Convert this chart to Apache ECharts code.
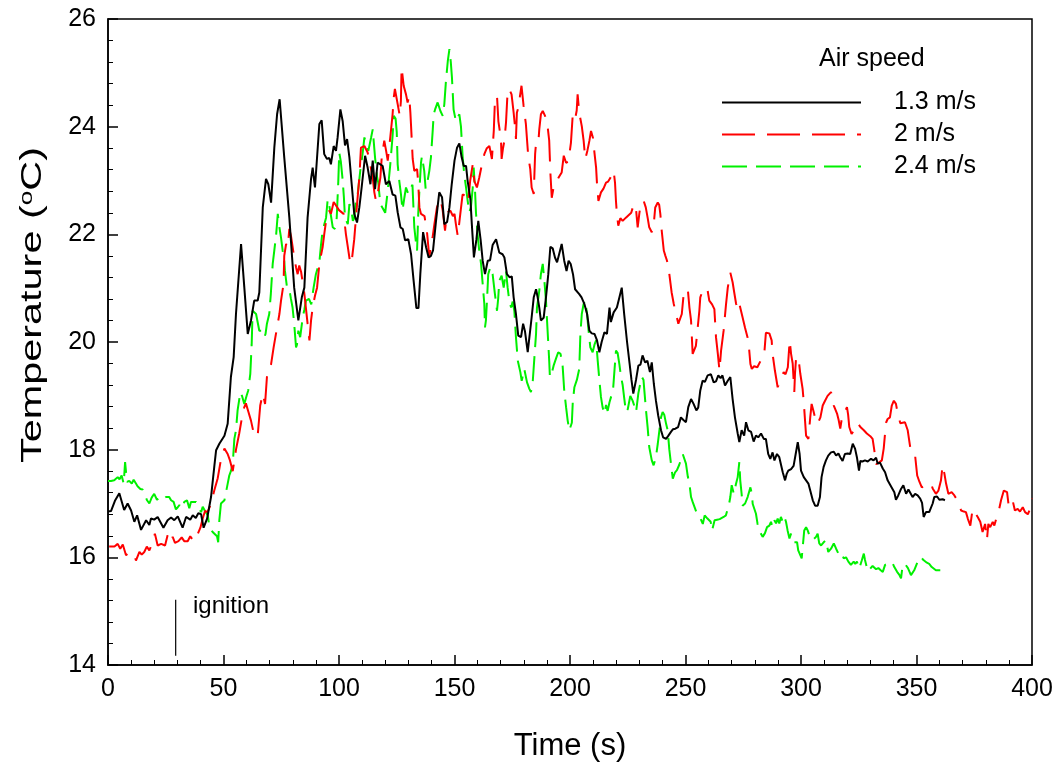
<!DOCTYPE html>
<html>
<head>
<meta charset="utf-8">
<script src="https://cdn.jsdelivr.net/npm/echarts@6/dist/echarts.min.js"></script>
<style>html,body{margin:0;padding:0;background:#fff;}#c{width:1061px;height:771px;}</style>
</head>
<body>
<div id="c"></div>
<script>
var xTicks = [0, 50, 100, 150, 200, 250, 300, 350, 400];
var yTicks = [14, 16, 18, 20, 22, 24, 26];
var seriesNames = ['1.3 m/s', '2 m/s', '2.4 m/s'];
var legendTitle = 'Air speed';
var ignitionLine = [[29.3, 15.21], [29.3, 14.17]];

var speed13 = [[0,16.85],[1.3,16.86],[3,17.05],[4.9,17.19],[7,16.88],[8.5,17.0],[10,16.87],[11.4,16.66],[12.6,16.78],[14.3,16.51],[16.5,16.69],[17.9,16.6],[18.6,16.72],[20,16.7],[21.5,16.75],[24,16.55],[25.8,16.69],[27.3,16.74],[28.7,16.69],[30.2,16.76],[32.3,16.55],[33.8,16.75],[35.6,16.7],[36.7,16.78],[38,16.73],[39.1,16.82],[40.3,16.8],[41.4,16.55],[42.9,16.72],[44.6,17.12],[46,17.68],[46.8,17.99],[48.2,18.11],[48.9,18.08],[50.4,18.26],[51.8,18.48],[53.2,19.35],[54.4,19.72],[55.4,20.52],[57.6,21.82],[59,21.02],[60.5,20.15],[61.9,20.4],[63.3,20.77],[64.8,20.77],[65.5,20.92],[67,22.5],[68.4,23.03],[69.4,22.93],[70.6,22.59],[72,23.61],[73.2,24.23],[74.3,24.51],[76.3,23.43],[78.5,22.31],[80.6,21.01],[82.4,20.4],[83.9,20.83],[85,21.01],[86.4,22.31],[87.9,23.03],[88.6,23.24],[89.6,22.87],[91.5,24.05],[92.5,24.12],[93.6,23.49],[94.8,23.4],[95.8,23.42],[96.5,23.3],[97.7,23.64],[98.7,23.55],[99.4,23.8],[100.6,24.32],[101.6,24.1],[102.6,23.65],[103.5,23.77],[104.5,23.43],[105.5,22.93],[106.6,22.38],[107.8,22.22],[108.8,22.5],[109.8,22.87],[111.3,23.46],[112.4,23.24],[113.6,22.93],[114.6,23.37],[115.6,22.84],[116.7,23.33],[117.9,23.3],[118.9,23.27],[120.3,22.93],[121.8,22.99],[123.2,22.74],[124.4,22.72],[125.4,22.41],[126.6,22.13],[127.6,22.1],[128.6,21.89],[130,21.91],[131.2,21.63],[132.3,21.14],[133.5,20.63],[134.4,20.63],[135.2,21.26],[136.4,22.04],[137.7,21.76],[138.8,21.57],[139.8,21.6],[140.7,21.7],[142,22.25],[143.4,22.78],[144.6,22.69],[145.6,22.19],[146.8,22.23],[147.8,22.5],[148.8,22.93],[150,23.37],[151.1,23.61],[152.1,23.69],[153.1,23.43],[154,23.27],[155,23.27],[155.7,22.99],[156.9,22.65],[157.5,22.19],[158.4,21.57],[159.5,21.91],[160.3,22.25],[161.3,21.9],[162.2,21.51],[163.2,21.26],[164.4,21.51],[165.4,21.52],[166.5,21.8],[168,21.91],[169.4,21.66],[170.8,21.63],[171.6,21.57],[172.7,21.26],[173.9,21.2],[174.8,21.22],[175.6,20.83],[176.6,20.52],[177.6,20.12],[178.8,20.09],[179.7,20.34],[180.5,20.2],[181.7,19.81],[182.5,19.83],[183.4,20.46],[184.3,20.83],[185.3,20.98],[186,20.83],[186.7,20.64],[187.4,20.4],[188.6,20.45],[189.6,20.83],[190.6,21.26],[191.5,21.77],[192.5,21.74],[193.5,21.57],[194.4,21.48],[195.4,21.65],[196.4,21.82],[197.5,21.51],[198.5,21.32],[199.4,21.51],[200.3,21.45],[201.3,21.26],[202.2,20.98],[203,20.95],[204,20.89],[205,20.83],[206.2,20.71],[207.4,20.52],[208.4,20.21],[209.4,20.16],[210.6,20.15],[211.7,20.03],[212.7,19.81],[213.7,20.0],[214.9,20.18],[216,20.15],[217.1,20.64],[217.7,20.37],[218.9,20.55],[220.3,20.64],[221.4,20.83],[222.4,21.01],[223.5,20.5],[224.7,20.0],[225.8,19.6],[226.6,19.3],[227.4,19.04],[228.6,19.3],[229.6,19.56],[230.5,19.58],[231.4,19.75],[232.5,19.62],[233.5,19.65],[234.6,19.44],[235.4,19.62],[236.3,19.22],[237.2,18.91],[238.2,18.63],[239.4,18.36],[240.3,18.23],[241.6,18.2],[242.6,18.26],[243.7,18.33],[244.6,18.38],[245.6,18.39],[246.8,18.42],[248,18.6],[249.1,18.55],[250.2,18.51],[251.2,18.79],[252.4,18.94],[253.5,18.85],[254.7,18.73],[255.5,18.78],[256.4,19.1],[257.4,19.28],[258.4,19.26],[259.6,19.38],[261,19.4],[262.2,19.25],[263.2,19.27],[264.2,19.38],[265.2,19.33],[266,19.38],[267.1,19.19],[268.3,19.28],[269.4,19.35],[270.4,18.94],[271.4,18.6],[272.6,18.3],[273.3,18.14],[274.3,18.36],[275.4,18.26],[276.2,18.51],[277.2,18.36],[278.4,18.33],[279.5,18.15],[280.5,18.26],[281.5,18.23],[282.7,18.3],[283.9,18.2],[284.8,18.2],[285.8,17.92],[286.7,17.83],[287.7,17.95],[288.5,17.8],[289.6,17.92],[290.6,17.86],[291.3,17.86],[292.1,17.58],[293.1,17.43],[293.8,17.55],[294.5,17.61],[295.7,17.64],[296.8,17.7],[297.7,17.92],[298.6,18.14],[299.4,17.92],[300,17.61],[301.2,17.49],[302.2,17.43],[303.2,17.37],[304,17.24],[305.1,17.06],[306.1,16.96],[307.2,16.96],[308.2,17.12],[308.9,17.49],[309.8,17.68],[310.8,17.8],[311.8,17.89],[313,17.95],[314.2,17.96],[315.2,17.89],[316.2,17.93],[317,17.86],[318,17.79],[319,17.92],[320.2,17.93],[321.3,17.92],[322.4,18.11],[323.4,18.02],[324.2,17.86],[325.1,17.61],[325.7,17.79],[326.6,17.78],[327.7,17.8],[328.9,17.78],[330.3,17.83],[331.4,17.8],[332.5,17.85],[333.2,17.74],[334.2,17.76],[335.4,17.65],[336.4,17.58],[337.5,17.43],[338.7,17.34],[339.5,17.33],[340.4,17.21],[341.1,17.07],[342.1,17.15],[343.3,17.27],[344.3,17.34],[345.5,17.18],[346.5,17.26],[347.3,17.24],[348.3,17.12],[349.4,17.18],[350.5,17.15],[351.6,17.09],[352.4,17.01],[353.1,16.75],[354.1,16.84],[354.8,16.81],[355.5,16.84],[356.3,16.81],[357,17.0],[357.7,17.12],[358.9,17.13],[359.9,17.07],[361.3,17.08],[362.3,17.06]];

var speed2 = [[0.5,16.2],[1.3,16.22],[2.8,16.2],[4.2,16.25],[5.3,16.16],[6.4,16.24],[7.8,16.04],[9.5,16.1],[11.4,16.04],[12.1,15.94],[13.6,16.1],[14.6,16.05],[15.7,16.1],[16.8,16.2],[17.9,16.13],[19.3,16.28],[20.3,16.44],[21.5,16.22],[23,16.25],[24.7,16.22],[25.8,16.41],[27,16.28],[28,16.38],[29,16.27],[30.5,16.3],[31.9,16.37],[33,16.3],[34.5,16.3],[35.6,16.39],[37.1,16.3],[38,16.33],[39,16.45],[40,16.55],[41,16.72],[42,16.86],[43.1,16.84],[44.6,17.0],[46,17.24],[47.5,17.47],[48.9,17.82],[50.4,18.02],[51.8,17.92],[52.8,17.8],[54,17.6],[55.4,18.0],[56.8,18.3],[58,18.6],[59,18.79],[59.7,18.86],[60.8,18.7],[61.9,18.54],[63.3,18.26],[64.8,18.26],[65.9,18.82],[67,19.04],[68,18.85],[68.8,19.35],[70.6,19.59],[71.7,19.9],[72.7,20.15],[74.2,20.52],[74.9,20.77],[76,21.08],[76.3,21.6],[77.1,21.82],[77.8,21.76],[78.5,22.1],[79.3,21.95],[80.6,21.57],[81.4,21.39],[82.1,21.26],[82.8,21.42],[83.6,21.3],[85,20.9],[86.4,20.34],[87.2,20.03],[87.9,20.4],[88.6,20.64],[89.6,20.86],[90.5,21.01],[91.5,21.45],[92.9,21.76],[93.6,22.0],[94.4,22.25],[95.8,22.44],[96.5,22.38],[97.7,22.6],[98.5,22.55],[100,22.45],[102,22.38],[103,22.0],[103.7,21.8],[104.9,21.45],[105.5,21.5],[106.6,21.91],[107.7,22.5],[108.8,23.05],[109.5,23.61],[111,23.64],[112.4,23.52],[113.5,23.3],[114.6,23.05],[115.3,22.78],[116,22.62],[116.7,22.74],[117.9,23.05],[118.5,23.43],[119.6,23.74],[120.4,23.55],[121.1,23.37],[122.2,23.8],[123.2,24.23],[123.7,24.54],[124.2,24.7],[125.4,24.42],[126.3,24.2],[126.8,24.48],[127.1,25.1],[128,24.76],[129,24.6],[129.7,24.45],[130.4,24.57],[130.9,24.26],[131.2,24.01],[131.9,23.4],[132.6,23.18],[133.8,23.21],[134.3,22.96],[134.8,22.5],[135.5,22.38],[136.3,22.4],[137,22.34],[138.1,22.04],[139.1,21.57],[139.8,21.8],[140.5,21.94],[141.3,22.19],[142.4,22.5],[143.4,22.65],[144.2,22.6],[144.9,22.44],[145.9,22.07],[146.5,22.3],[147.1,22.41],[148.2,22.44],[149.3,22.34],[150,22.38],[150.6,22.19],[151.4,21.97],[152.3,22.3],[153.5,22.74],[155,22.71],[155.9,22.6],[156.8,23.0],[157.9,23.3],[158.6,22.99],[159.7,22.87],[160.7,23.05],[162.2,23.37],[163,23.5],[164,23.6],[165.1,23.64],[166.2,23.4],[167,23.92],[167.5,24.48],[168.4,24.57],[169,24.1],[170.1,23.77],[170.4,23.4],[171,23.6],[171.6,23.74],[172.3,24.08],[173,24.66],[173.7,24.7],[174.7,24.6],[175.6,24.26],[176.2,24.0],[176.6,23.77],[177,24.26],[177.6,24.35],[178.3,24.37],[179,24.76],[179.9,24.39],[180.9,24.05],[181.9,23.46],[182.8,23.21],[183.4,22.87],[184.3,22.75],[184.9,23.49],[185.3,23.7],[186.3,23.7],[186.7,23.95],[187.4,24.23],[188.2,24.29],[189.2,24.2],[190.3,24.01],[191,23.74],[191.5,23.15],[192.1,22.68],[192.9,22.87],[193.9,22.95],[195,23.05],[196.4,23.15],[197.3,23.46],[198.3,23.33],[199.3,23.35],[200.4,23.7],[201.2,24.23],[202.2,24.14],[202.9,24.3],[203.3,24.6],[204,24.26],[205.1,24.01],[205.9,23.74],[206.6,23.4],[207.5,23.55],[208.4,23.74],[209.1,23.92],[209.9,23.8],[210.5,23.55],[211.3,23.24],[211.7,22.93],[212.3,22.62],[213.4,22.78],[214.5,22.85],[215.6,22.96],[216.5,22.98],[217.5,23.05],[218.9,23.18],[219.5,22.95],[219.9,22.62],[220.3,22.38],[220.9,22.16],[221.8,22.3],[222.8,22.25],[224.2,22.31],[225,22.3],[226.5,22.4],[227.6,22.56],[228.5,22.5],[229.3,22.13],[230,22.38],[230.7,22.59],[231.9,22.62],[232.8,22.5],[233.6,22.31],[234.3,22.13],[235.4,22.04],[236.2,22.16],[236.9,22.5],[238,22.59],[238.6,22.55],[239.1,22.38],[239.7,22.07],[240.6,21.7],[241.3,21.6],[242,21.51],[243,21.26],[244,20.92],[244.9,20.71],[245.9,20.52],[246.9,20.34],[247.6,20.36],[248.4,20.52],[249.2,20.89],[250.2,20.92],[251,20.98],[251.7,20.64],[252.4,20.4],[253.1,19.78],[254.5,19.93],[255.3,20.27],[256,20.58],[256.4,20.83],[257.4,20.95],[258.4,21.01],[259.6,20.95],[260.3,20.77],[261.5,20.7],[262.5,20.61],[263.2,20.09],[264,19.78],[264.7,19.47],[265.4,19.84],[266.5,20.21],[267.5,20.68],[268.3,21.01],[269.4,21.29],[270.4,21.11],[271.1,20.92],[271.9,20.71],[272.6,20.61],[273.3,20.71],[274.7,20.46],[275.8,20.26],[276.9,20.08],[277.6,19.84],[278.1,19.59],[278.7,19.5],[279.7,19.55],[280.5,19.53],[281.1,19.53],[282.5,19.65],[284.1,19.78],[284.8,20.17],[285.6,20.2],[286.3,20.16],[287.3,20.03],[287.7,19.78],[288.7,19.47],[289.9,19.16],[291.3,19.31],[292.5,19.44],[293.3,19.4],[294.3,19.53],[295.1,20.03],[295.7,19.78],[296.4,19.6],[297.1,19.07],[297.4,19.41],[297.9,19.72],[298.9,19.7],[299.7,19.41],[300.7,19.13],[301.2,18.88],[302.2,18.26],[303.2,18.2],[304,18.6],[304.6,18.85],[305.5,18.7],[306.2,18.57],[307.2,18.48],[308.4,18.6],[309.4,18.82],[310.3,18.9],[311.5,19.0],[313,19.07],[314.2,18.82],[314.9,18.85],[315.6,18.67],[316.3,18.55],[317,18.39],[318,18.67],[319,18.7],[319.9,18.79],[320.4,18.65],[320.9,18.42],[321.9,18.29],[322.8,18.35],[323.8,18.48],[324.8,18.48],[325.7,18.42],[326.5,18.4],[327.2,18.36],[328.5,18.3],[330,18.25],[331,18.2],[331.7,18.0],[332.5,17.73],[333.4,17.75],[334.2,17.77],[335,17.8],[335.8,18.02],[336.8,18.5],[337.5,18.57],[338.5,18.6],[339.3,18.82],[340.2,18.91],[341.1,18.85],[341.9,18.67],[343,18.49],[344,18.5],[345,18.51],[346.2,18.36],[347.6,17.95],[348.4,17.92],[349.4,17.89],[350.3,17.52],[351.3,17.4],[352.3,17.3],[353.5,17.33],[354.8,17.37],[356.3,17.37],[357,17.28],[358.4,17.18],[359.5,17.24],[360.6,17.43],[361.3,17.71],[362.1,17.55],[362.8,17.37],[363.8,17.18],[365.2,17.21],[366.4,17.15],[367.1,17.1],[367.8,17.12],[368.6,16.96],[369.3,16.87],[370.5,16.85],[371.4,16.84],[372.2,16.72],[373.3,16.59],[374.3,16.9],[375.5,16.82],[376.5,16.75],[377.6,16.66],[378.6,16.47],[379.7,16.62],[380.5,16.33],[381.1,16.62],[381.9,16.56],[383,16.66],[383.7,16.59],[384.8,16.76],[385.8,16.9],[386.6,17.06],[387.8,17.24],[389.2,17.21],[389.8,17.0],[390.6,16.95],[391.6,17.06],[392.6,16.87],[393.8,16.9],[394.8,16.85],[396,16.93],[397,16.84],[398.2,16.8],[399.2,16.9],[400,17.09]];

var speed24 = [[0,17.42],[1.3,17.42],[2.7,17.43],[4.2,17.49],[5,17.45],[5.9,17.52],[6.8,17.37],[7.4,17.77],[8.2,17.4],[9.2,17.42],[10.3,17.37],[11.1,17.44],[12.1,17.37],[12.8,17.32],[14,17.27],[15,17.26],[16,17.15],[16.9,17.06],[17.9,17.0],[18.9,17.11],[20,17.18],[21.2,17.07],[22.2,17.1],[23.2,17.06],[24,17.08],[25.1,17.12],[25.8,17.1],[26.5,17.12],[27.3,17.06],[28.4,17.03],[29.4,16.89],[30.2,16.93],[30.9,16.97],[32.3,16.91],[33,17.03],[34.2,17.06],[35.2,16.91],[35.9,17.03],[37,17.03],[38.1,17.03],[39.1,16.93],[40.3,16.84],[41,16.94],[42,16.86],[43.2,16.78],[43.9,16.56],[45.3,16.47],[46,16.44],[47.2,16.39],[47.7,16.28],[48.2,16.69],[48.9,17.0],[50.4,17.06],[51.5,17.3],[52.5,17.52],[53.2,17.6],[54,17.74],[54.7,18.2],[55.4,18.36],[56.1,18.73],[57.3,19.07],[58,19.0],[59,18.85],[60,19.0],[60.7,19.1],[61.6,19.41],[62.2,19.96],[62.6,20.58],[64.1,20.52],[65.5,20.21],[66.5,20.21],[67.7,20.09],[68.2,20.15],[68.8,20.34],[69.8,20.52],[70.5,20.9],[71.3,21.45],[72,21.7],[72.8,22.0],[73.5,22.38],[74.2,22.13],[74.9,21.94],[75.6,21.7],[76.3,21.51],[76.6,21.32],[77.5,21.01],[78.5,20.98],[79.2,20.8],[79.9,20.64],[80.6,20.34],[81.4,19.9],[81.8,19.95],[82.4,20.21],[83.2,20.09],[84.3,20.46],[85,20.6],[85.7,20.77],[87,20.8],[88,20.7],[89,21.01],[90,21.26],[91.5,21.48],[92.2,21.8],[92.9,22.07],[94.4,22.31],[95.1,22.65],[95.8,22.53],[96.5,22.35],[97.3,22.13],[98.2,22.1],[99,22.3],[99.7,22.99],[100.1,23.52],[100.8,23.35],[101.6,23.0],[102.1,22.7],[102.6,22.31],[103.8,22.19],[104.5,22.56],[105.2,22.5],[106,22.25],[106.6,22.3],[107.4,22.65],[108.1,22.75],[109.2,23.18],[110.2,23.49],[111,23.8],[112.1,23.64],[112.7,23.55],[113.9,23.8],[114.6,23.95],[115.6,23.43],[116.5,23.06],[117,22.96],[117.9,22.56],[119,22.48],[120,22.4],[121.1,22.81],[122.2,23.3],[123.2,23.83],[123.7,24.2],[124.5,24.15],[125,23.9],[125.4,23.3],[126.1,22.99],[126.8,22.75],[127.5,22.45],[128.3,22.68],[129,22.87],[130,22.75],[131.2,22.87],[131.8,22.92],[132.6,22.13],[133.3,21.85],[133.8,21.7],[134.3,22.38],[134.8,22.81],[135.5,23.33],[135.9,23.45],[136.9,23.18],[137.5,22.85],[138.1,22.93],[139.1,23.18],[139.8,23.43],[140.6,23.95],[141,24.23],[141.6,24.32],[142.7,24.45],[143.9,24.29],[144.9,24.2],[145.6,24.42],[146.3,24.85],[147.1,25.22],[147.8,25.44],[148.4,25.2],[148.9,24.91],[149.6,24.32],[150.6,24.1],[151.4,24.12],[152.1,24.23],[152.8,24.0],[153.5,23.46],[154.2,23.12],[155,22.87],[155.7,22.62],[156.4,22.41],[157.1,22.5],[157.9,22.87],[158.3,23.24],[158.8,22.9],[159.3,22.4],[160,22.0],[160.7,21.7],[161.5,21.45],[162.2,21.08],[162.9,20.71],[163.2,20.27],[163.6,20.4],[164.1,20.8],[164.6,21.26],[165.5,21.39],[166.5,21.26],[167.5,20.89],[168.4,20.58],[168.9,20.8],[169.4,21.14],[170.4,21.23],[171.3,21.01],[172.3,21.32],[173,21.01],[173.7,20.77],[174.5,20.64],[175.2,20.75],[175.9,20.58],[176.6,20.09],[177.4,19.65],[178.5,19.44],[179.1,19.28],[180.2,19.5],[181.4,19.25],[182.4,19.13],[183.1,19.07],[183.9,19.28],[184.6,19.72],[185.3,20.15],[185.7,20.64],[186.7,20.95],[187.4,21.26],[188.2,21.45],[188.9,21.14],[189.6,20.77],[190.3,20.21],[191,19.65],[191.3,19.35],[192.1,19.42],[192.9,19.56],[194,19.7],[194.9,19.81],[195.9,19.78],[196.8,19.56],[197.5,19.1],[198.3,18.79],[199,18.54],[199.7,18.36],[200.4,18.33],[200.8,18.5],[201.2,18.88],[201.9,19.16],[203,19.3],[204,19.5],[204.5,20.15],[205.1,20.52],[205.9,20.71],[206.5,20.77],[207.4,20.52],[207.9,20.27],[208.8,19.9],[209.8,19.81],[210.6,19.95],[211.3,20.03],[212,19.65],[212.7,19.3],[213.4,18.98],[214.1,18.79],[214.9,18.67],[215.6,18.83],[216.3,18.72],[217.1,18.88],[217.9,19.0],[218.7,19.15],[219.3,19.5],[219.9,19.84],[220.6,19.8],[221.4,19.58],[222.1,19.35],[222.8,19.2],[223.5,18.95],[224.2,18.7],[225,18.75],[226.1,19.0],[227.1,18.91],[227.8,18.82],[228.6,18.7],[229.6,19.05],[230.3,19.2],[231.1,19.35],[231.8,19.3],[232.3,19.04],[232.9,18.73],[233.6,18.42],[234.3,18.05],[235.4,17.8],[236.2,17.71],[237.2,17.86],[238,18.11],[238.7,18.36],[239.4,18.6],[240.1,18.7],[240.8,18.65],[241.6,18.48],[242.3,18.36],[243,18.0],[243.7,17.74],[244.5,17.46],[245.5,17.58],[246.3,17.62],[247.3,17.72],[248,17.74],[248.8,17.92],[249.5,17.9],[250.2,17.74],[251,17.5],[251.7,17.37],[252.4,17.12],[253.1,17.03],[254.7,16.84],[255.4,16.78],[256.5,16.72],[257.5,16.62],[258.3,16.78],[259.5,16.72],[260.9,16.66],[261.5,16.5],[262.6,16.69],[263.7,16.7],[264.8,16.71],[265.4,16.69],[266.5,16.75],[267.5,16.78],[268.3,16.75],[268.9,17.0],[269.4,17.12],[270,17.34],[270.9,17.18],[271.4,17.15],[271.9,17.37],[272.6,17.49],[273.3,17.77],[273.7,17.43],[274.3,17.18],[274.7,16.96],[275.8,17.0],[276.9,17.12],[278.1,17.3],[278.7,17.18],[279.1,16.99],[280.5,16.81],[281.2,16.62],[281.9,16.5],[283.4,16.38],[284.4,16.45],[285.3,16.56],[286.3,16.59],[287,16.66],[287.7,16.56],[288.5,16.69],[289.2,16.63],[289.9,16.72],[290.6,16.63],[291.3,16.75],[292.1,16.66],[292.8,16.75],[293.5,16.66],[294.2,16.5],[295,16.35],[295.7,16.44],[296.4,16.42],[297.1,16.28],[298.3,16.28],[298.8,16.13],[299.5,16.15],[300.3,15.98],[301.4,16.5],[302.2,16.56],[302.9,16.5],[303.6,16.41],[304.4,16.36],[305.1,16.32],[306.5,16.38],[307.2,16.44],[307.9,16.26],[308.7,16.22],[309.8,16.28],[310.8,16.32],[311.8,16.1],[313,16.16],[314.2,16.26],[315.2,16.16],[316.2,16.07],[317.3,16.1],[318.5,15.98],[319.5,16.0],[320.5,15.92],[321.6,15.86],[322.8,15.92],[323.5,15.88],[324.2,15.92],[325.2,15.79],[326.3,15.94],[327.2,16.07],[327.7,15.95],[328.9,15.74],[329.8,15.78],[331,15.84],[332.5,15.78],[333.5,15.8],[334.5,15.76],[335.4,15.73],[336.4,15.86],[337.5,15.88],[339,15.92],[339.8,15.88],[340.4,15.82],[341.6,15.73],[342.5,15.68],[343.3,15.61],[344,15.85],[345,15.88],[346.3,15.8],[347.6,15.67],[349,15.76],[350.5,15.92],[351.9,16.01],[353,15.95],[354.5,15.9],[355.5,15.88],[356.6,15.82],[357.3,15.84],[358.4,15.76],[359.2,15.78],[360.3,15.76]];

var FONT = 'Liberation Sans, Arial, sans-serif';
var chart = echarts.init(document.getElementById('c'), null, {renderer: 'canvas'});

function axisCommon() {
  return {
    axisLine: {show: true, lineStyle: {color: '#000', width: 1.5}},
    axisTick: {show: true, inside: true, length: 10, lineStyle: {color: '#000', width: 1.5}},
    minorTick: {show: true, splitNumber: 5, length: 5, lineStyle: {color: '#000', width: 1}},
    splitLine: {show: false},
    minorSplitLine: {show: false}
  };
}

var xAxis = Object.assign(axisCommon(), {
  type: 'value', min: xTicks[0], max: xTicks[xTicks.length - 1], interval: xTicks[1] - xTicks[0],
  name: 'Time (s)', nameLocation: 'middle', nameGap: 66,
  nameTextStyle: {fontSize: 31, color: '#000', fontFamily: FONT},
  axisLabel: {fontSize: 25, color: '#000', fontFamily: FONT, margin: 12}
});
var yAxis = Object.assign(axisCommon(), {
  type: 'value', min: yTicks[0], max: yTicks[yTicks.length - 1], interval: yTicks[1] - yTicks[0],
  axisLabel: {fontSize: 25, color: '#000', fontFamily: FONT, margin: 12}
});

var option = {
  animation: false,
  backgroundColor: '#fff',
  grid: {left: 108, right: 29, top: 19, bottom: 106, show: true, borderColor: '#000', borderWidth: 1.5, backgroundColor: 'transparent'},
  xAxis: xAxis,
  yAxis: yAxis,
  legend: {
    data: seriesNames, orient: 'vertical', left: 721, top: 90, padding: 0,
    itemWidth: 139, itemHeight: 14, itemGap: 7,
    itemStyle: {opacity: 0},
    textStyle: {fontSize: 25, color: '#000', fontFamily: FONT, padding: [0, 0, 0, 28]}
  },
  graphic: [
    {type: 'text', left: 819, top: 47, style: {text: legendTitle, font: '25px ' + FONT, fill: '#000'}},
    {type: 'text', left: 193, top: 594, style: {text: 'ignition', font: '24px ' + FONT, fill: '#000'}},
    {type: 'text', x: 33, y: 305, rotation: Math.PI / 2, scaleX: 1.38,
      style: {text: 'Temperature ({sup|o}C)', font: '30px ' + FONT, fill: '#000', align: 'center', verticalAlign: 'middle',
        rich: {sup: {font: '19px ' + FONT, fill: '#000', verticalAlign: 'top', padding: [0, 0, 12, 0]}}}}
  ],
  series: [
    {name: seriesNames[0], type: 'line', data: speed13, symbol: 'none', lineStyle: {color: '#000', width: 2}, itemStyle: {color: '#000'}, z: 5},
    {name: seriesNames[1], type: 'line', data: speed2, symbol: 'none', lineStyle: {color: '#ff0000', width: 2, type: [33, 12]}, itemStyle: {color: '#ff0000'}, z: 4},
    {name: seriesNames[2], type: 'line', data: speed24, symbol: 'none', lineStyle: {color: '#00f000', width: 2, type: [25, 9]}, itemStyle: {color: '#00f000'}, z: 3},
    {name: 'ignition', type: 'line', data: ignitionLine, symbol: 'none', lineStyle: {color: '#000', width: 1.2}, z: 6}
  ]
};
chart.setOption(option);
</script>
</body>
</html>
